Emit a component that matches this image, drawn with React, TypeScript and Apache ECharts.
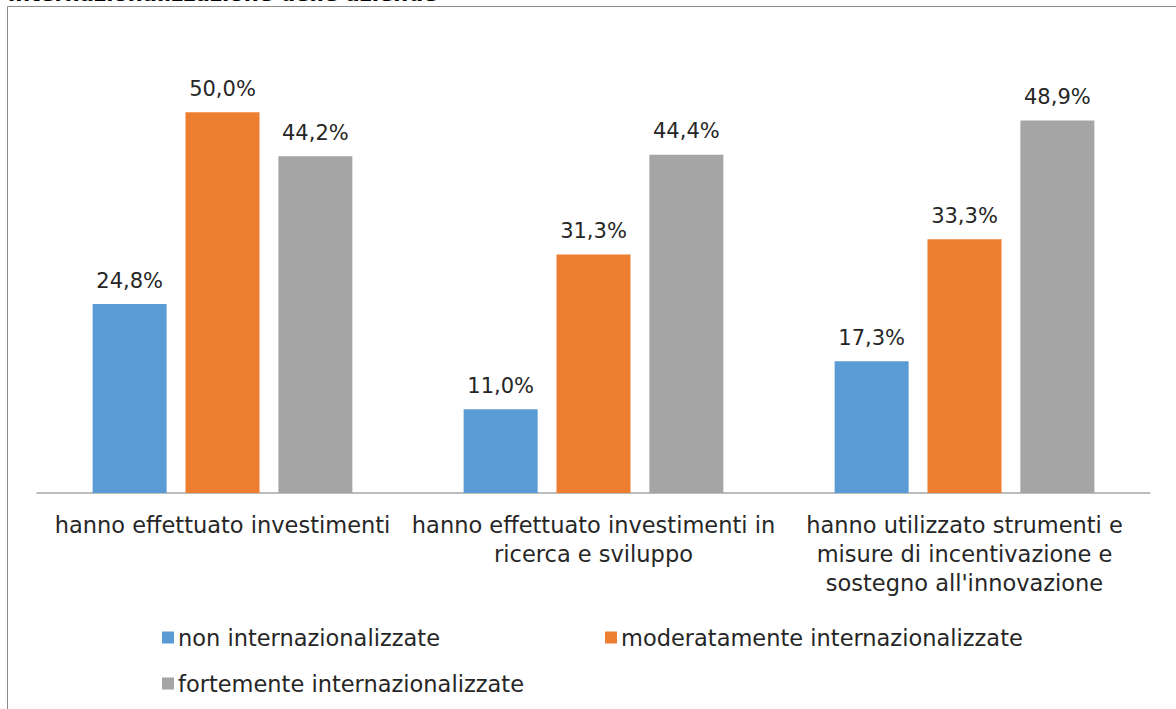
import React, { useEffect, useRef } from "react";
import * as echarts from "echarts";

const categories = [
  "hanno effettuato investimenti",
  "hanno effettuato investimenti in\nricerca e sviluppo",
  "hanno utilizzato strumenti e\nmisure di incentivazione e\nsostegno all'innovazione",
];
const seriesNames = [
  "non internazionalizzate",
  "moderatamente internazionalizzate",
  "fortemente internazionalizzate",
];
const nonInt = [24.8, 11.0, 17.3];
const moderInt = [50.0, 31.3, 33.3];
const fortInt = [44.2, 44.4, 48.9];
const colors = ["#5B9BD5", "#ED7D31", "#A5A5A5"];
const titleText = "internazionalizzazione delle aziende";

const FONT = "'DejaVu Sans', sans-serif";
const TXT = "#262626";

export default function App() {
  const ref = useRef<HTMLDivElement>(null);
  useEffect(() => {
    document.body.style.margin = "0";
    const chart = echarts.init(ref.current!, null, { renderer: "svg" });
    const values = [nonInt, moderInt, fortInt];
    const fmt = (v: number) => v.toFixed(1).replace(".", ",") + "%";
    chart.setOption({
      animation: false,
      textStyle: { fontFamily: FONT },
      grid: { left: 37, width: 1113, top: 36, height: 457 },
      xAxis: {
        type: "category",
        data: categories,
        axisLine: { lineStyle: { color: "#A6A6A6", width: 1.5 } },
        axisTick: { show: false },
        axisLabel: {
          interval: 0,
          color: TXT,
          fontSize: 22.5,
          fontFamily: FONT,
          lineHeight: 29,
          margin: 17,
        },
      },
      yAxis: {
        type: "value",
        min: 0,
        max: 60,
        show: false,
        splitLine: { show: false },
      },
      legend: seriesNames.map((n, i) => ({
        data: [n],
        left: [157, 600, 157][i],
        top: [621, 621, 667][i],
        itemWidth: 12,
        itemHeight: 12,
        itemGap: 6,
        icon: "rect",
        textStyle: { color: TXT, fontSize: 22.5, fontFamily: FONT, padding: [0, 0, 0, -1] },
      })),
      series: seriesNames.map((n, i) => ({
        type: "bar",
        name: n,
        data: values[i],
        barWidth: 74,
        barGap: "25.5%",
        itemStyle: { color: colors[i] },
        label: {
          show: true,
          position: "top",
          distance: 13,
          color: TXT,
          fontSize: 21,
          fontFamily: FONT,
          formatter: (p: any) => fmt(p.value),
        },
      })),
      graphic: [
        {
          type: "rect",
          shape: { x: 7.5, y: 6.5, width: 1300, height: 900 },
          style: { fill: "none", stroke: "#8C8C8C", lineWidth: 1 },
          silent: true,
        },
        {
          type: "text",
          x: 8,
          y: 4,
          style: {
            text: titleText,
            font: "bold 21px " + FONT,
            fill: "#000",
            verticalAlign: "bottom",
          },
        },
      ],
    });
    return () => chart.dispose();
  }, []);
  return <div ref={ref} style={{ width: 1176, height: 709 }} />;
}
